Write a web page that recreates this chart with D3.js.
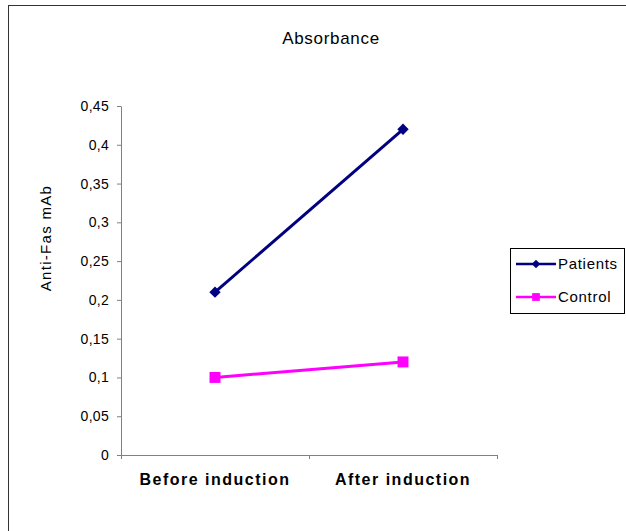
<!DOCTYPE html>
<html>
<head>
<meta charset="utf-8">
<script src="https://cdn.jsdelivr.net/npm/d3@7"></script>
<style>
  body { margin: 0; background: #fff; }
  text { font-family: "Liberation Sans", Arial, sans-serif; }
</style>
</head>
<body>
<div id="chart"></div>
<script>
// chart data
var categories = ["Before induction", "After induction"];
var patients = [0.21, 0.42];
var control = [0.10, 0.12];
var yTicks = [0, 0.05, 0.1, 0.15, 0.2, 0.25, 0.3, 0.35, 0.4, 0.45];

var svgWidth = 626;
var svgHeight = 531;

var margin = { top: 106, left: 121, right: 129, bottom: 76 };
var width = svgWidth - margin.left - margin.right;
var height = svgHeight - margin.top - margin.bottom;

var svg = d3.select("#chart")
  .append("svg")
  .attr("width", svgWidth)
  .attr("height", svgHeight);

// outer frame
svg.append("rect")
  .attr("x", 8.5)
  .attr("y", 5.5)
  .attr("width", 640)
  .attr("height", 560)
  .attr("fill", "none")
  .attr("stroke", "#333")
  .attr("stroke-width", 1);

svg.append("text")
  .attr("x", 331)
  .attr("y", 44)
  .attr("text-anchor", "middle")
  .style("font-size", "17px")
  .style("letter-spacing", "0.7px")
  .text("Absorbance");

var chartGroup = svg.append("g")
  .attr("transform", `translate(${margin.left}, ${margin.top})`);

var xScale = d3.scaleBand()
  .domain(categories)
  .range([0, width]);

var yScale = d3.scaleLinear()
  .domain([0, 0.45])
  .range([height, 0]);

var fmt = d => String(+d.toFixed(2)).replace(".", ",");

// y axis
var leftAxis = d3.axisLeft(yScale)
  .tickValues(yTicks)
  .tickSize(4)
  .tickPadding(8)
  .tickFormat(fmt);

var yAxis = chartGroup.append("g").call(leftAxis);
yAxis.select(".domain").attr("stroke", "#808080").attr("d", `M0.5,0.5V${height}`);
yAxis.selectAll(".tick line").attr("stroke", "#808080");
yAxis.selectAll(".tick text")
  .style("font-size", "14px")
  .style("letter-spacing", "0.3px")
  .attr("fill", "#000");

// x axis
var bottomAxis = d3.axisBottom(xScale).tickSize(0).tickPadding(19);
var xAxis = chartGroup.append("g")
  .attr("transform", `translate(0, ${height})`)
  .call(bottomAxis);
xAxis.select(".domain").attr("stroke", "#808080").attr("d", `M0,0.5H${width}`);
xAxis.selectAll(".tick text")
  .style("font-size", "16px")
  .style("font-weight", "bold")
  .style("letter-spacing", "1.5px")
  .attr("fill", "#000");

// x tick marks between categories
chartGroup.selectAll(".xsep")
  .data([0, 1, 2])
  .enter()
  .append("line")
  .attr("x1", i => i * xScale.step() + 0.5)
  .attr("x2", i => i * xScale.step() + 0.5)
  .attr("y1", height)
  .attr("y2", height + 4)
  .attr("stroke", "#808080");

// y axis title
svg.append("text")
  .attr("transform", "rotate(-90)")
  .attr("x", -238)
  .attr("y", 51)
  .attr("text-anchor", "middle")
  .style("font-size", "15px")
  .style("letter-spacing", "1.3px")
  .text("Anti-Fas mAb");

var cx = (d, i) => xScale(categories[i]) + xScale.bandwidth() / 2;
var line = d3.line()
  .x((d, i) => cx(d, i))
  .y(d => yScale(d));

// diamond = square turned 45 degrees
var series = [
  { name: "Patients", values: patients, color: "#000080", size: 64, lsize: 36, rot: 45 },
  { name: "Control", values: control, color: "#FF00FF", size: 120, lsize: 60, rot: 0 }
];

series.forEach(function(s) {
  chartGroup.append("path")
    .datum(s.values)
    .attr("fill", "none")
    .attr("stroke", s.color)
    .attr("stroke-width", 3)
    .attr("d", line);

  chartGroup.selectAll(null)
    .data(s.values)
    .enter()
    .append("path")
    .attr("d", d3.symbol().type(d3.symbolSquare).size(s.size))
    .attr("transform", (d, i) => `translate(${cx(d, i)}, ${yScale(d)}) rotate(${s.rot})`)
    .attr("fill", s.color);
});

// legend
var legend = svg.append("g");
legend.append("rect")
  .attr("x", 510.5)
  .attr("y", 248.5)
  .attr("width", 114)
  .attr("height", 65)
  .attr("fill", "#fff")
  .attr("stroke", "#000");

series.forEach(function(s, i) {
  var y = 264 + i * 33;
  legend.append("line")
    .attr("x1", 516).attr("x2", 556)
    .attr("y1", y).attr("y2", y)
    .attr("stroke", s.color)
    .attr("stroke-width", 2.5);
  legend.append("path")
    .attr("d", d3.symbol().type(d3.symbolSquare).size(s.lsize))
    .attr("transform", `translate(536, ${y}) rotate(${s.rot})`)
    .attr("fill", s.color);
  legend.append("text")
    .attr("x", 558)
    .attr("y", y + 5)
    .style("font-size", "15px")
    .style("letter-spacing", "0.7px")
    .text(s.name);
});
</script>
</body>
</html>
